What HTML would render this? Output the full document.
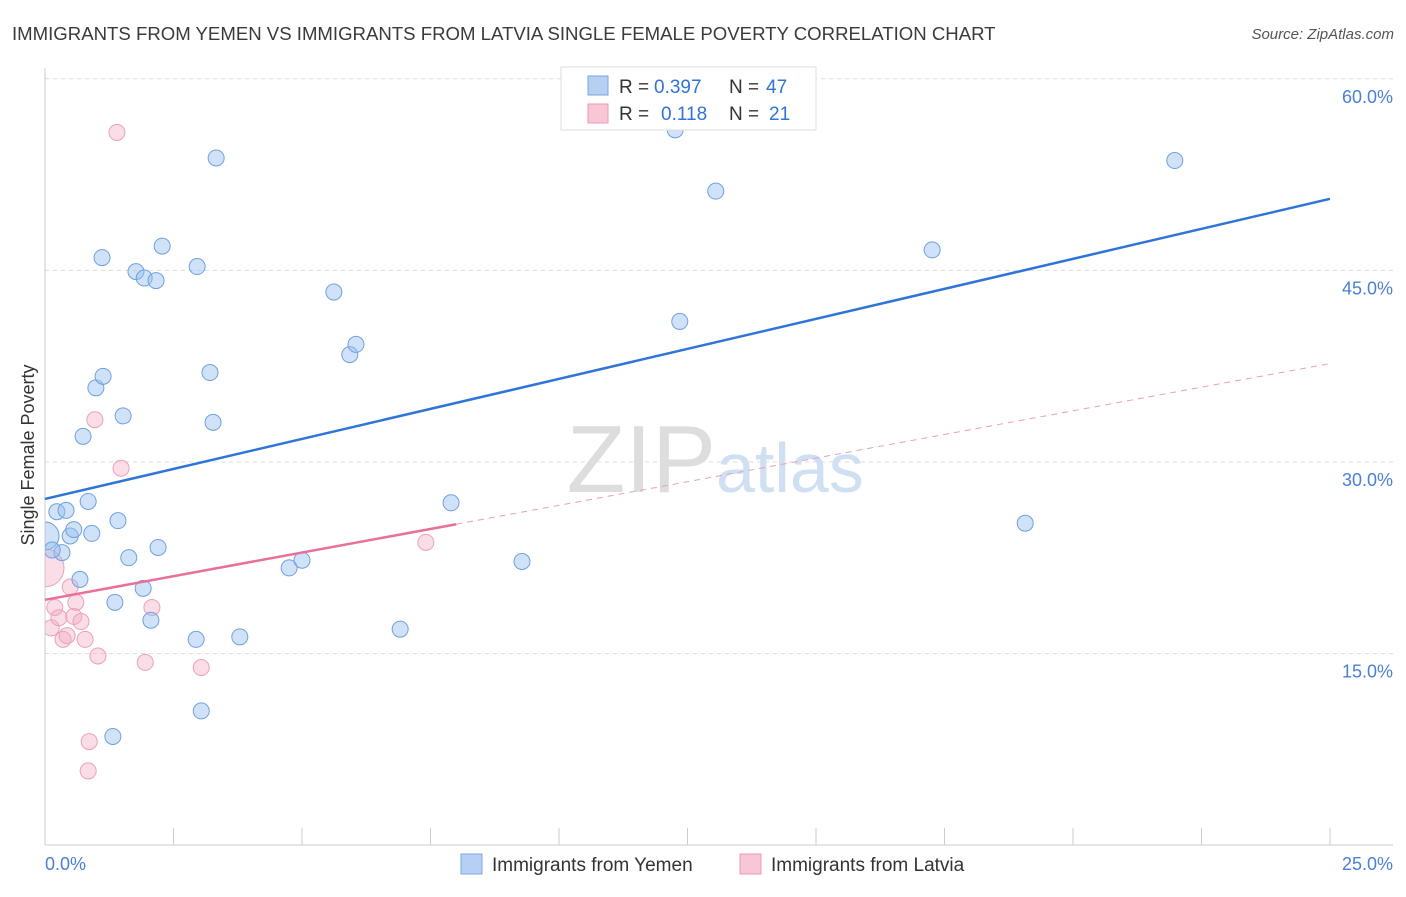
<!DOCTYPE html>
<html><head><meta charset="utf-8">
<style>
body{margin:0;background:#fff;font-family:"Liberation Sans",sans-serif;}
svg text{font-family:"Liberation Sans",sans-serif;white-space:pre;}
</style></head>
<body>
<svg width="1406" height="892">
<defs><clipPath id="plotclip"><rect x="45" y="60" width="1360" height="785"/></clipPath></defs>
<text x="12" y="40" font-size="18.6" fill="#3a3a3a">IMMIGRANTS FROM YEMEN VS IMMIGRANTS FROM LATVIA SINGLE FEMALE POVERTY CORRELATION CHART</text>
<text x="1394" y="39" font-size="15" fill="#555" text-anchor="end" font-style="italic">Source: ZipAtlas.com</text>
<text x="716" y="492" font-size="96" fill="#ddd" font-family="Liberation Serif" text-anchor="end">ZIP</text>
<text x="716" y="492" font-size="70" fill="#cfe0f4">atlas</text>
<g id="grid"></g>
<line x1="45" y1="68" x2="45" y2="845" stroke="#ccc"/>
<line x1="45" y1="845" x2="1393" y2="845" stroke="#ccc"/>
<g id="xticks"></g>
<text x="45" y="870" font-size="18" fill="#4a7fd6">0.0%</text>
<text x="1393" y="870" font-size="18" fill="#4a7fd6" text-anchor="end">25.0%</text>
<text x="34" y="455" font-size="18" fill="#333" text-anchor="middle" transform="rotate(-90 34 455)">Single Female Poverty</text>
<g id="pts" clip-path="url(#plotclip)"></g>
<g id="lines"></g>
<g>
<rect x="561" y="67" width="255" height="63" fill="#fff" stroke="#ddd"/>
<rect x="588" y="76" width="20" height="19" fill="#b6d0f3" stroke="#7aa6e0"/>
<rect x="588" y="104" width="20" height="19" fill="#f9c6d6" stroke="#ec9ab5"/>
<text x="619" y="93" font-size="19" fill="#333">R =</text>
<text x="654" y="93" font-size="19" fill="#2f74d8">0.397</text>
<text x="729" y="93" font-size="19" fill="#333">N =</text>
<text x="766" y="93" font-size="19" fill="#2f74d8">47</text>
<text x="619" y="120" font-size="19" fill="#333">R =</text>
<text x="661" y="120" font-size="19" fill="#2f74d8">0.118</text>
<text x="729" y="120" font-size="19" fill="#333">N =</text>
<text x="769" y="120" font-size="19" fill="#2f74d8">21</text>
</g>
<g>
<rect x="461" y="854" width="21" height="20" fill="#b6d0f3" stroke="#7aa6e0"/>
<text x="492" y="871" font-size="19" fill="#333">Immigrants from Yemen</text>
<rect x="740" y="854" width="21" height="20" fill="#f9c6d6" stroke="#ec9ab5"/>
<text x="771" y="871" font-size="19" fill="#333">Immigrants from Latvia</text>
</g>
</svg>
<script>
const yTicks=[15,30,45,60];
const yTickLabels=["15.0%","30.0%","45.0%","60.0%"];
const xTickVals=[2.5,5,7.5,10,12.5,15,17.5,20,22.5,25];
const yemenX=[0,0.23,0.41,0.33,0.49,0.56,0.68,0.74,0.84,0.91,0.99,1.11,1.13,1.32,1.36,1.42,1.52,1.63,1.77,1.91,1.93,2.06,2.16,2.20,2.28,2.94,2.96,3.04,3.21,3.27,3.33,3.79,4.75,5.00,5.62,5.93,6.05,6.91,7.90,9.28,12.26,12.35,13.05,17.26,19.07,21.98,0.14];
const yemenY=[24.2,26.1,26.2,22.9,24.2,24.7,20.8,32.0,26.9,24.4,35.8,46.0,36.7,8.5,19.0,25.4,33.6,22.5,44.9,20.1,44.4,17.6,44.2,23.3,46.9,16.1,45.3,10.5,37.0,33.1,53.8,16.3,21.7,22.3,43.3,38.4,39.2,16.9,26.8,22.2,56.0,41.0,51.2,46.6,25.2,53.6,23.1];
const latviaX=[0,0.12,0.19,0.27,0.35,0.43,0.49,0.56,0.60,0.70,0.78,0.86,0.84,0.97,1.03,1.40,1.48,1.95,2.08,3.04,7.41];
const latviaY=[21.7,17.0,18.6,17.8,16.1,16.4,20.2,17.9,19.0,17.5,16.1,8.1,5.8,33.3,14.8,55.8,29.5,14.3,18.6,13.9,23.7];
const yemenFit=[27.1,50.6];
const latviaFit=[19.2,37.7];
const latviaSolidEnd=8.0;
const X=v=>45+v*51.4, Y=v=>845-v*12.77;
const NS="http://www.w3.org/2000/svg";
function mk(t,a,p){const e=document.createElementNS(NS,t);for(const k in a)e.setAttribute(k,a[k]);document.getElementById(p).appendChild(e);return e;}
yTicks.forEach((v,i)=>{
 const l=mk('line',{x1:45,x2:1393,y1:Y(v),y2:Y(v),stroke:'#ddd','stroke-dasharray':'4,4'},'grid');
 
 
 const t=mk('text',{x:1393,y:Y(v)+24,'font-size':18,fill:'#4a7fd6','text-anchor':'end'},'grid');
 t.textContent=yTickLabels[i];
 
 
});
xTickVals.forEach(v=>{
 const l=mk('line',{x1:X(v),x2:X(v),y1:828,y2:845,stroke:'#ccc'},'xticks');
 
 
});
latviaX.forEach((x,i)=>{
 const c=mk('circle',{cx:X(x),cy:Y(latviaY[i]),r:i==0?19:8,fill:'rgba(245,170,195,0.4)',stroke:'#eca0ba','stroke-width':1},'pts');
 
 
});
yemenX.forEach((x,i)=>{
 const c=mk('circle',{cx:X(x),cy:Y(yemenY[i]),r:i==0?14:8,fill:'rgba(150,190,240,0.45)',stroke:'#6fa0e0','stroke-width':1},'pts');
 
 
});
const b=mk('line',{x1:X(0),y1:Y(yemenFit[0]),x2:X(25),y2:Y(yemenFit[1]),stroke:'#2f74d8','stroke-width':2.5},'lines');


const pm=latviaFit[0]+(latviaFit[1]-latviaFit[0])*latviaSolidEnd/25;
const p1=mk('line',{x1:X(0),y1:Y(latviaFit[0]),x2:X(latviaSolidEnd),y2:Y(pm),stroke:'#e8709a','stroke-width':2.5},'lines');


const p2=mk('line',{x1:X(latviaSolidEnd),y1:Y(pm),x2:X(25),y2:Y(latviaFit[1]),stroke:'#e8a0b8','stroke-width':1,'stroke-dasharray':'6,5'},'lines');


</script>
</body></html>
